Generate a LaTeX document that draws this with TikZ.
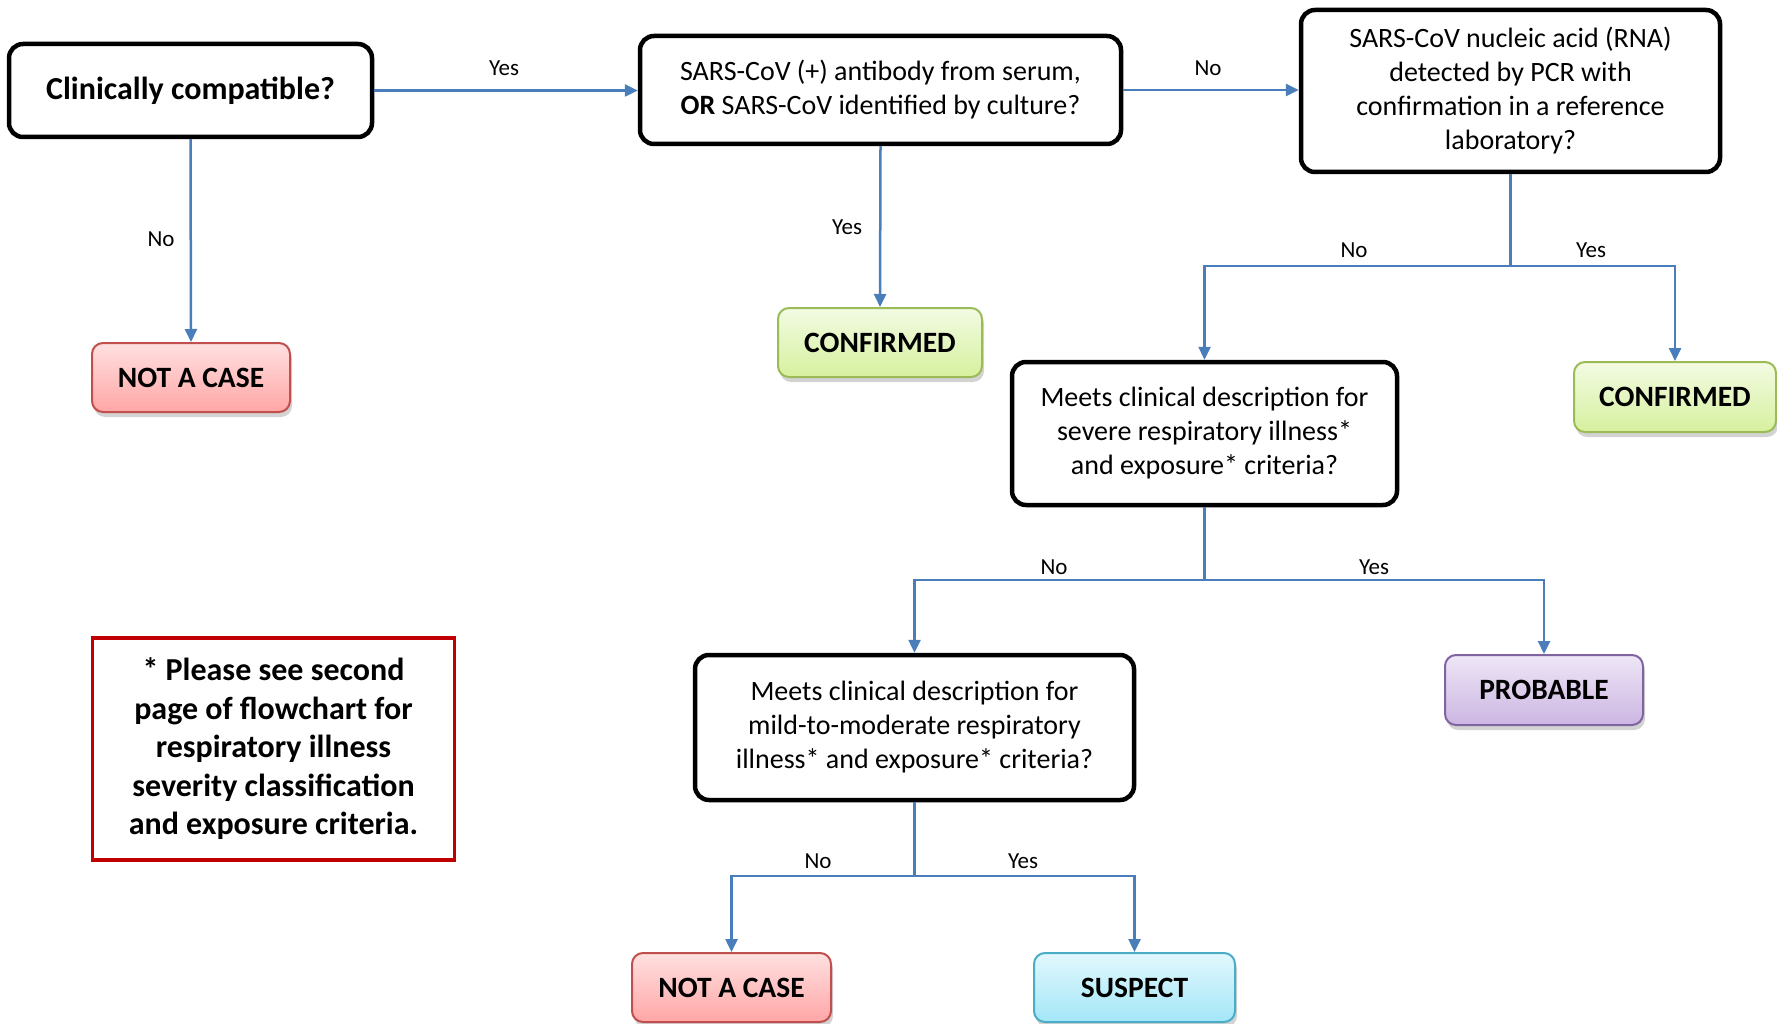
\documentclass[tikz,border=0pt]{standalone}
\usepackage{fontspec}
\setmainfont{Carlito}
\usetikzlibrary{arrows.meta,shadows}
\definecolor{conn}{HTML}{4A7EBB}
\definecolor{redtop}{HTML}{FFE0E0}
\definecolor{redbot}{HTML}{FFA6A6}
\definecolor{redln}{HTML}{C0504D}
\definecolor{grntop}{HTML}{F3FBE3}
\definecolor{grnbot}{HTML}{D6F09E}
\definecolor{grnln}{HTML}{9BBB59}
\definecolor{purtop}{HTML}{EEE6F6}
\definecolor{purbot}{HTML}{CCB6E2}
\definecolor{purln}{HTML}{8064A2}
\definecolor{blutop}{HTML}{E2F8FD}
\definecolor{blubot}{HTML}{A3E6F8}
\definecolor{bluln}{HTML}{4BACC6}
\definecolor{noteln}{HTML}{C00000}
\tikzset{
  qbox/.style={draw=black, line width=4.5pt, rounded corners=14pt, fill=white, inner sep=0pt, align=center,
    font=\fontsize{28}{34}\selectfont},
  obox/.style={line width=2pt, rounded corners=11pt, inner sep=0pt, align=center,
    font=\fontsize{29.5}{34}\selectfont\bfseries,
    drop shadow={opacity=0.35, shadow xshift=2pt, shadow yshift=-5pt}},
  redbox/.style={obox, draw=redln, top color=redtop, bottom color=redbot},
  grnbox/.style={obox, draw=grnln, top color=grntop, bottom color=grnbot},
  purbox/.style={obox, draw=purln, top color=purtop, bottom color=purbot},
  blubox/.style={obox, draw=bluln, top color=blutop, bottom color=blubot},
  conline/.style={draw=conn, line width=2.5pt},
  conarrow/.style={conline, -{Triangle[length=13pt,width=12pt]}},
  lbl/.style={font=\fontsize{23}{26}\selectfont, inner sep=0pt}
}
\begin{document}
\begin{tikzpicture}[x=1pt,y=-1pt]
\useasboundingbox (0,0) rectangle (1777,1024);
% question boxes
\node[qbox, minimum width=363pt, minimum height=93pt, font=\fontsize{32}{36}\selectfont\bfseries] (clin) at (190.5,90.5) {Clinically compatible?};
\node[qbox, minimum width=481pt, minimum height=108pt] (ab) at (880.5,90) {SARS-CoV (+) antibody from serum,\\\textbf{OR} SARS-CoV identified by culture?};
\node[qbox, minimum width=419pt, minimum height=162pt] (rna) at (1510.5,91) {SARS-CoV nucleic acid (RNA)\\detected by PCR with\\confirmation in a reference\\laboratory?};
\node[qbox, minimum width=385pt, minimum height=143pt] (sev) at (1204.5,433.5) {Meets clinical description for\\severe respiratory illness*\\and exposure* criteria?};
\node[qbox, minimum width=439pt, minimum height=145pt] (mild) at (914.5,727.5) {Meets clinical description for\\mild-to-moderate respiratory\\illness* and exposure* criteria?};
% outcome boxes
\node[redbox, minimum width=198pt, minimum height=69pt] (nac1) at (191,377.5) {NOT A CASE};
\node[grnbox, minimum width=204pt, minimum height=69pt] (conf1) at (880,342.5) {CONFIRMED};
\node[grnbox, minimum width=202pt, minimum height=70pt] (conf2) at (1675,397) {CONFIRMED};
\node[purbox, minimum width=198pt, minimum height=70pt] (prob) at (1544,690) {PROBABLE};
\node[redbox, minimum width=199pt, minimum height=69pt] (nac2) at (731.5,987.5) {NOT A CASE};
\node[blubox, minimum width=201pt, minimum height=69pt] (susp) at (1134.5,987.5) {SUSPECT};
% note
\node[draw=noteln, line width=3.5pt, minimum width=362pt, minimum height=222pt, inner sep=0pt, align=center,
  font=\fontsize{32}{38.5}\selectfont\bfseries] (note) at (273.5,749)
  {* Please see second\\page of flowchart for\\respiratory illness\\severity classification\\and exposure criteria.};
% junctions
\coordinate (j1) at (1510.5,266);
\coordinate (j2) at (1204.5,580);
\coordinate (j3) at (914.5,876);
% connectors
\draw[conarrow] (clin.east) -- (ab.west |- clin.east);
\draw[conarrow] (ab.east) -- (ab.east -| rna.west);
\draw[conarrow] (clin.south) -- (nac1.north);
\draw[conarrow] (ab.south) -- (conf1.north);
\draw[conline] (rna.south) -- (j1);
\draw[conarrow] (j1) -| (sev.north);
\draw[conarrow] (j1) -| (conf2.north);
\draw[conline] (sev.south) -- (j2);
\draw[conarrow] (j2) -| (mild.north);
\draw[conarrow] (j2) -| (prob.north);
\draw[conline] (mild.south) -- (j3);
\draw[conarrow] (j3) -| (nac2.north);
\draw[conarrow] (j3) -| (susp.north);
% labels
\node[lbl] (l1) at (504,68) {Yes};
\node[lbl] (l2) at (1208,68) {No};
\node[lbl] (l3) at (161,239) {No};
\node[lbl] (l4) at (847,227) {Yes};
\node[lbl] (l5) at (1354,250) {No};
\node[lbl] (l6) at (1591,250) {Yes};
\node[lbl] (l7) at (1054,567) {No};
\node[lbl] (l8) at (1374,567) {Yes};
\node[lbl] (l9) at (818,861) {No};
\node[lbl] (l10) at (1023,861) {Yes};
\end{tikzpicture}
\end{document}
